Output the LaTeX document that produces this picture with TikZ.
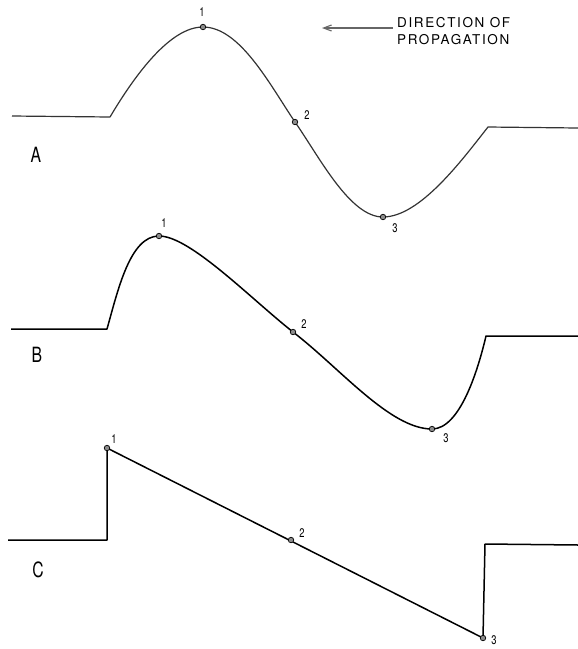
\documentclass[tikz,border=0pt]{standalone}
\usepackage{fontspec}
\setsansfont{TeX Gyre Heros}
\newfontfamily\lettfont[FakeStretch=0.75]{TeX Gyre Heros}
\newfontfamily\capfont[LetterSpace=12]{TeX Gyre Heros}
\usetikzlibrary{arrows.meta}
\begin{document}
\begin{tikzpicture}[x=1pt,y=-1pt,
  waveA/.style={line width=1.2pt, draw=black!80, line join=round},
  wave/.style={line width=1.5pt, draw=black, line join=round},
  dot/.style={circle, draw=black, fill=black!45, line width=0.7pt, inner sep=0pt, minimum size=5.5pt},
  num/.style={font=\lettfont\fontsize{12.5}{12.5}\selectfont, inner sep=0pt},
  letter/.style={font=\lettfont\fontsize{21}{21}\selectfont, inner sep=0pt},
  caption/.style={font=\capfont\fontsize{13.5}{15}\selectfont, inner sep=0pt, anchor=west, text=black}]
\useasboundingbox (0,0) rectangle (578,649);

% ---------- direction caption ----------
\node[caption] (cap1) at (397,23) {DIRECTION OF};
\node[caption] (cap2) at (397,40) {PROPAGATION};
\coordinate (arrS) at (393,28);
\coordinate (arrE) at (322,28);
\draw[black!60, line width=1.1pt, -{Straight Barb[length=8pt,width=6pt]}] (arrS) -- (arrE);

% ---------- curve A ----------
\coordinate (a0) at (12,116);
\coordinate (a1k) at (110,117);
\coordinate (A1) at (203,27);
\coordinate (A2) at (295,122);
\coordinate (A3) at (383,217);
\coordinate (a4k) at (488,127);
\coordinate (a5) at (578,128);
\draw[waveA] (a0) -- (a1k)
  .. controls (135,75) and (170,27) .. (A1)
  .. controls (240,27) and (270,85) .. (A2)
  .. controls (320,158) and (350,217) .. (A3)
  .. controls (420,217) and (462,160) .. (a4k) -- (a5);
\node[dot] (dA1) at (A1) {};
\node[dot] (dA2) at (A2) {};
\node[dot] (dA3) at (A3) {};
\node[num] (nA1) at (202,12) {1};
\node[num] (nA2) at (307,115) {2};
\node[num] (nA3) at (395,228) {3};
\node[letter] (LA) at (36,155) {A};

% ---------- curve B ----------
\coordinate (b0) at (11,329);
\coordinate (b1k) at (107,329);
\coordinate (B1) at (159,236);
\coordinate (B2) at (293,332);
\coordinate (B3) at (432,429);
\coordinate (b4k) at (486,336);
\coordinate (b5) at (578,336);
\draw[wave] (b0) -- (b1k)
  .. controls (118,290) and (130,236) .. (B1)
  .. controls (190,236) and (250,298) .. (B2)
  .. controls (340,368) and (390,429) .. (B3)
  .. controls (460,429) and (478,370) .. (b4k) -- (b5);
\node[dot] (dB1) at (B1) {};
\node[dot] (dB2) at (B2) {};
\node[dot] (dB3) at (B3) {};
\node[num] (nB1) at (164,223) {1};
\node[num] (nB2) at (304,324) {2};
\node[num] (nB3) at (446,438) {3};
\node[letter] (LB) at (37,355) {B};

% ---------- curve C ----------
\coordinate (c0) at (8,540);
\coordinate (c1k) at (107,540);
\coordinate (C1) at (107,448);
\coordinate (C2) at (291,540);
\coordinate (C3) at (483,638);
\coordinate (c4k) at (485,544);
\coordinate (c5) at (578,545);
\draw[wave] (c0) -- (c1k) -- (C1) -- (C3) -- (c4k) -- (c5);
\node[dot] (dC1) at (C1) {};
\node[dot] (dC2) at (C2) {};
\node[dot] (dC3) at (C3) {};
\node[num] (nC1) at (114,439) {1};
\node[num] (nC2) at (302,533) {2};
\node[num] (nC3) at (494,640) {3};
\node[letter] (LC) at (38,570) {C};
\end{tikzpicture}
\end{document}
